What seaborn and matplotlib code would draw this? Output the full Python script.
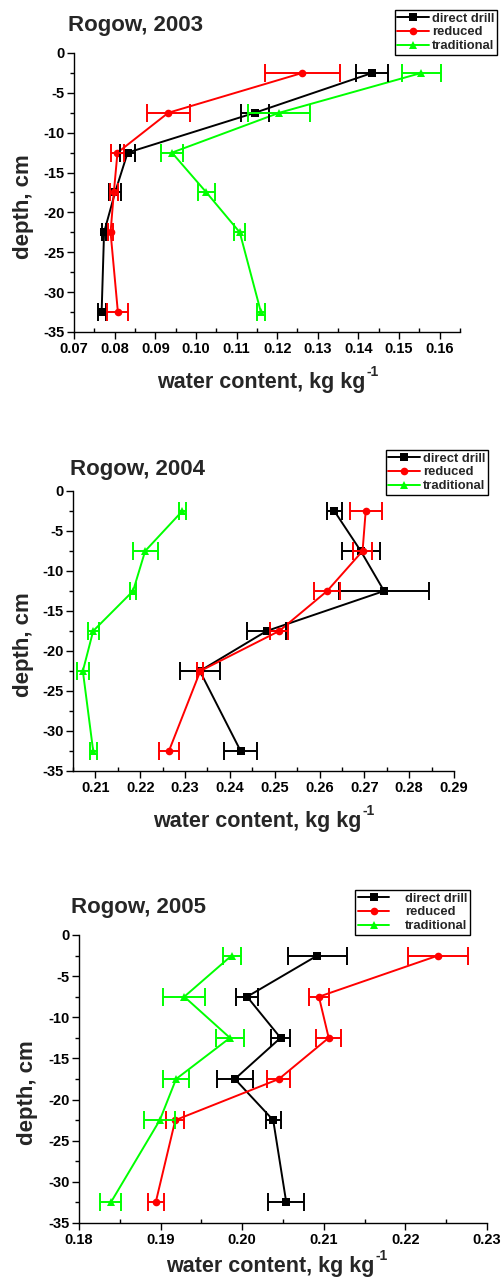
import numpy as np
import pandas as pd
import matplotlib
matplotlib.use("Agg")
import matplotlib.pyplot as plt
from matplotlib.lines import Line2D
from matplotlib.ticker import MultipleLocator, FormatStrFormatter
import seaborn as sns

sns.set_theme(style="white")
plt.rcParams["font.family"] = ["Liberation Sans", "DejaVu Sans"]
plt.rcParams["font.weight"] = "bold"

# Sampling depths (cm, negative downwards)
depth = [-2.5, -7.5, -12.5, -17.5, -22.5, -32.5]
treatments = ["direct drill", "reduced", "traditional"]
colors = {"direct drill": "#000000", "reduced": "#FF0000", "traditional": "#00FF00"}
markers = {"direct drill": "s", "reduced": "o", "traditional": "^"}

# 2003 water content (kg/kg) and standard error
wc_2003_dd = [0.1434, 0.1145, 0.0832, 0.0801, 0.0774, 0.0768]
se_2003_dd = [0.0039, 0.0035, 0.0018, 0.0014, 0.0005, 0.0010]
wc_2003_red = [0.1262, 0.0932, 0.0807, 0.0798, 0.0790, 0.0808]
se_2003_red = [0.0093, 0.0053, 0.0017, 0.0010, 0.0007, 0.0026]
wc_2003_trad = [0.1555, 0.1205, 0.0941, 0.1026, 0.1108, 0.1160]
se_2003_trad = [0.0048, 0.0076, 0.0027, 0.0021, 0.0014, 0.0009]

# 2004
wc_2004_dd = [0.2633, 0.2692, 0.2744, 0.2482, 0.2333, 0.2424]
se_2004_dd = [0.0017, 0.0042, 0.0100, 0.0043, 0.0045, 0.0037]
wc_2004_red = [0.2703, 0.2696, 0.2617, 0.2510, 0.2334, 0.2264]
se_2004_red = [0.0036, 0.0022, 0.0029, 0.0020, 0.0007, 0.0022]
wc_2004_trad = [0.2294, 0.2211, 0.2184, 0.2095, 0.2072, 0.2095]
se_2004_trad = [0.0008, 0.0028, 0.0006, 0.0012, 0.0014, 0.0008]

# 2005
wc_2005_dd = [0.2092, 0.2006, 0.2047, 0.1991, 0.2038, 0.2054]
se_2005_dd = [0.0036, 0.0013, 0.0012, 0.0022, 0.0009, 0.0022]
wc_2005_red = [0.2240, 0.2094, 0.2106, 0.2045, 0.1918, 0.1894]
se_2005_red = [0.0037, 0.0012, 0.0015, 0.0014, 0.0011, 0.0010]
wc_2005_trad = [0.1987, 0.1929, 0.1985, 0.1919, 0.1899, 0.1839]
se_2005_trad = [0.0011, 0.0026, 0.0017, 0.0016, 0.0019, 0.0013]

years = {
    "2003": ([wc_2003_dd, wc_2003_red, wc_2003_trad], [se_2003_dd, se_2003_red, se_2003_trad]),
    "2004": ([wc_2004_dd, wc_2004_red, wc_2004_trad], [se_2004_dd, se_2004_red, se_2004_trad]),
    "2005": ([wc_2005_dd, wc_2005_red, wc_2005_trad], [se_2005_dd, se_2005_red, se_2005_trad]),
}

W, H = 504, 1284
fig = plt.figure(figsize=(W / 100, H / 100), dpi=100)

# pixel layout per panel
layout = {
    "2003": dict(box=(74, 460, 53, 332), xlim=(0.07, 0.165), title=(68, 25),
                 leg=(497, 10), xlab=(157, 388), ylab=(23, 207), hpad=0.25),
    "2004": dict(box=(73, 454, 491, 771), xlim=(0.205, 0.29), title=(70, 470),
                 leg=(488, 450), xlab=(153, 827), ylab=(23, 645), hpad=0.25),
    "2005": dict(box=(79, 487, 935, 1223), xlim=(0.18, 0.23), title=(71, 907),
                 leg=(470, 890), xlab=(166, 1272), ylab=(27, 1093), hpad=1.2),
}

xlabel_parts = []

for year, (vals, errs) in years.items():
    L = layout[year]
    l, r, t, b = L["box"]
    ax = fig.add_axes([l / W, 1 - b / H, (r - l) / W, (b - t) / H])
    df = pd.concat([
        pd.DataFrame({"wc": v, "depth": depth, "se": e, "treatment": name})
        for name, v, e in zip(treatments, vals, errs)
    ], ignore_index=True)
    sns.lineplot(data=df, x="wc", y="depth", hue="treatment", style="treatment",
                 palette=colors, markers=markers, dashes=False, sort=False,
                 estimator=None, orient="y", linewidth=1.4, markersize=5.5,
                 markeredgewidth=0, legend=False, ax=ax)
    for name in treatments:
        sub = df[df["treatment"] == name]
        ax.errorbar(sub["wc"], sub["depth"], xerr=sub["se"], fmt="none",
                    ecolor=colors[name], elinewidth=1.4, capsize=6.5, capthick=1.4,
                    zorder=3)

    ax.set_xlim(*L["xlim"])
    ax.set_ylim(-35, 0)
    ax.xaxis.set_major_locator(MultipleLocator(0.01))
    ax.xaxis.set_minor_locator(MultipleLocator(0.005))
    ax.xaxis.set_major_formatter(FormatStrFormatter("%.2f"))
    ax.yaxis.set_major_locator(MultipleLocator(5))
    ax.yaxis.set_minor_locator(MultipleLocator(2.5))
    ax.yaxis.set_major_formatter(FormatStrFormatter("%d"))
    for side in ("top", "right"):
        ax.spines[side].set_visible(False)
    for side in ("left", "bottom"):
        ax.spines[side].set_color("black")
        ax.spines[side].set_linewidth(1.0)
    ax.tick_params(axis="both", which="major", direction="out", length=5, width=1.0,
                   colors="black", labelsize=10.5, pad=2, bottom=True, left=True)
    ax.tick_params(axis="x", which="minor", direction="in", length=3, width=1.0,
                   colors="black", bottom=True)
    ax.tick_params(axis="y", which="minor", direction="out", length=3, width=1.0,
                   colors="black", left=True)
    for lab in ax.get_xticklabels() + ax.get_yticklabels():
        lab.set_fontweight("bold")
    ax.set_xlabel("")
    ax.set_ylabel("")
    ax.grid(False)

    yx, yy = L["ylab"]
    fig.text(yx / W, 1 - yy / H, "depth, cm", rotation=90, ha="center", va="center",
             fontsize=16, fontweight="bold")

    xx, xy = L["xlab"]
    main = fig.text(xx / W, 1 - xy / H, "water content, kg kg", ha="left",
                    va="baseline", fontsize=15.5, fontweight="bold")
    xlabel_parts.append(main)

    tx, ty = L["title"]
    fig.text(tx / W, 1 - ty / H, f"Rogow, {year}", ha="left", va="center",
             fontsize=16, fontweight="bold")

    handles = [Line2D([0], [0], color=colors[n], marker=markers[n], markersize=5.5,
                      markeredgewidth=0, linewidth=1.4) for n in treatments]
    lx, ly = L["leg"]
    leg = fig.legend(handles, treatments, loc="upper right",
                     bbox_to_anchor=(lx / W, 1 - ly / H), frameon=True, fancybox=False,
                     edgecolor="black", framealpha=1, borderpad=0.2, labelspacing=0.12,
                     handlelength=2.4, handletextpad=L["hpad"], borderaxespad=0,
                     prop={"size": 9.4, "weight": "bold"})
    leg.get_frame().set_linewidth(1.0)

# superscript "-1" placed right after each axis-title text
fig.canvas.draw()
renderer = fig.canvas.get_renderer()
for main in xlabel_parts:
    bb = main.get_window_extent(renderer)
    fig.text((bb.x1 + 1) / W, (bb.y1 - 7) / H, "-1", ha="left", va="bottom",
             fontsize=10, fontweight="bold")

fig.savefig("out.png", dpi=100)
